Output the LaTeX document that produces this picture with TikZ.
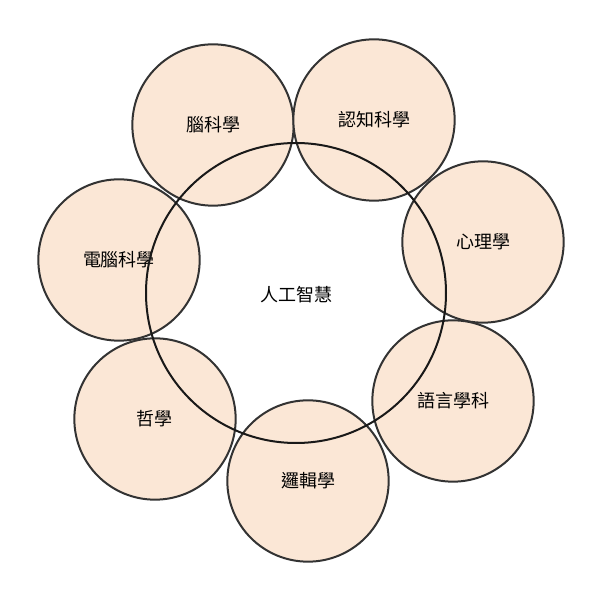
\documentclass[tikz,border=0pt]{standalone}
\usepackage{fontspec}
\setmainfont{Noto Sans CJK TC}
\begin{document}
\begin{tikzpicture}[x=0.75pt,y=-0.75pt,
  sm/.style={circle,draw=black!80,line width=1.5pt,fill={rgb,255:red,251;green,231;blue,214},minimum size=121pt,inner sep=0pt,font=\fontsize{13.5}{15}\selectfont},
  big/.style={circle,draw=black!90,line width=1.5pt,minimum size=225pt,inner sep=0pt}]
\useasboundingbox (0,0) rectangle (601,598);
\node[sm] (b) at (213,125) {腦科學};
\node[sm] (c) at (374,120) {認知科學};
\node[sm] (p) at (483,242) {心理學};
\node[sm] (l) at (453,401) {語言學科};
\node[sm] (g) at (308,481) {邏輯學};
\node[sm] (z) at (155,419) {哲學};
\node[sm] (d) at (119,260) {電腦科學};
\node[big] (ai) at (296,293) {};
\node[font=\fontsize{13.5}{15}\selectfont] (t) at (296,295) {人工智慧};
\end{tikzpicture}
\end{document}
